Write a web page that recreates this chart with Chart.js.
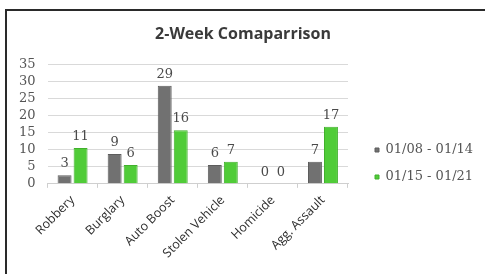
<!DOCTYPE html>
<html>
<head>
<meta charset="utf-8">
<script src="https://cdn.jsdelivr.net/npm/chart.js@4.4.1/dist/chart.umd.min.js"></script>
<style>
    html, body { margin: 0; padding: 0; background: #fff; }
    #frame {
        position: absolute; left: 5px; top: 9px;
        width: 480px; height: 265px;
        border-left: 2px solid #2a2a2a; border-top: 2px solid #2a2a2a;
        box-sizing: border-box;
    }
    #wrap { position: absolute; left: 0; top: 0; width: 478px; height: 263px; }
</style>
</head>
<body>
<div id="frame"><div id="wrap"><canvas id="chart"></canvas></div></div>
<script>
// Dades
const categories = ['Robbery', 'Burglary', 'Auto Boost', 'Stolen Vehicle', 'Homicide', 'Agg. Assault'];
const week1Label = '01/08 - 01/14';
const week2Label = '01/15 - 01/21';
const week1Values = [2.5, 8.7, 28.7, 5.5, 0, 6.5];
const week2Values = [10.5, 5.5, 15.7, 6.5, 0, 16.7];
const yTicks = [0, 5, 10, 15, 20, 25, 30, 35];

const serif = '"DejaVu Serif", "Liberation Serif", serif';
const sans = '"Open Sans", "Noto Sans", sans-serif';
const LEGEND_GAP = 13;   // espai extra a l'esquerra de la llegenda
const LEGEND_DROP = 23;  // desplaçament vertical de la llegenda

// Etiquetes de valor sobre les barres
const valueLabels = {
    id: 'valueLabels',
    afterDatasetsDraw(chart) {
        const ctx = chart.ctx;
        ctx.save();
        ctx.font = '13px ' + serif;
        ctx.fillStyle = '#4a4a4a';
        ctx.textAlign = 'center';
        ctx.textBaseline = 'alphabetic';
        chart.data.datasets.forEach((ds, i) => {
            chart.getDatasetMeta(i).data.forEach((bar, j) => {
                ctx.fillText(String(Math.round(ds.data[j])), bar.x, bar.y - 8);
            });
        });
        ctx.restore();
    }
};

// Posició de la llegenda com a l'original
const legendGap = {
    id: 'legendGap',
    beforeLayout(chart) {
        const legend = chart.legend;
        if (legend && !legend._gapPatched) {
            const fit = legend.fit;
            legend.fit = function () {
                fit.call(this);
                this.width += LEGEND_GAP;
            };
            legend._gapPatched = true;
        }
    },
    afterLayout(chart) {
        const legend = chart.legend;
        if (legend) {
            legend.left += LEGEND_GAP;
            legend.right += LEGEND_GAP;
            legend.top += LEGEND_DROP;
            legend.bottom += LEGEND_DROP;
        }
    }
};

new Chart(document.getElementById('chart'), {
    type: 'bar',
    data: {
        labels: categories,
        datasets: [
            {
                label: week1Label,
                data: week1Values,
                backgroundColor: '#717171',
                borderColor: '#5c5c5c',
                borderWidth: 1,
                categoryPercentage: 0.64,
                barPercentage: 0.87
            },
            {
                label: week2Label,
                data: week2Values,
                backgroundColor: '#50cc38',
                borderColor: '#41b02c',
                borderWidth: 1,
                categoryPercentage: 0.64,
                barPercentage: 0.87
            }
        ]
    },
    options: {
        responsive: true,
        maintainAspectRatio: false,
        animation: false,
        layout: { padding: { left: 0, right: 6, top: 4, bottom: 8 } },
        plugins: {
            title: {
                display: true,
                text: '2-Week Comaparrison',
                color: '#3a3a3a',
                font: { family: sans, size: 16, weight: 'bold' },
                padding: { top: 10, bottom: 20 }
            },
            legend: {
                position: 'right',
                labels: {
                    usePointStyle: true,
                    pointStyle: 'rect',
                    boxWidth: 4,
                    boxHeight: 4,
                    padding: 14,
                    color: '#555',
                    font: { family: serif, size: 13 }
                }
            },
            tooltip: { enabled: false }
        },
        scales: {
            x: {
                offset: true,
                grid: {
                    offset: true,
                    drawOnChartArea: false,
                    drawTicks: true,
                    tickLength: 4,
                    color: '#cfcfcf'
                },
                border: { color: '#cfcfcf' },
                ticks: {
                    color: '#2e2e2e',
                    font: { family: sans, size: 12.5 },
                    maxRotation: 45,
                    minRotation: 45,
                    padding: 5
                }
            },
            y: {
                min: 0,
                max: 35,
                afterBuildTicks: (axis) => { axis.ticks = yTicks.map(v => ({ value: v })); },
                grid: { color: '#d9d9d9', drawTicks: false },
                border: { display: false },
                ticks: {
                    autoSkip: false,
                    color: '#555',
                    padding: 12,
                    font: { family: serif, size: 13 }
                }
            }
        }
    },
    plugins: [valueLabels, legendGap]
});
</script>
</body>
</html>
